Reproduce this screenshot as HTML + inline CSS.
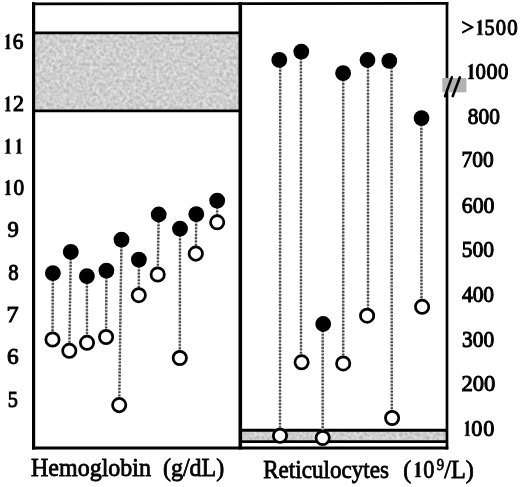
<!DOCTYPE html>
<html><head><meta charset="utf-8"><style>
html,body{margin:0;padding:0;background:#fff;}
body{width:520px;height:487px;overflow:hidden;}
svg{display:block;}
text{font-family:"Liberation Serif",serif;font-size:22.5px;fill:#000;stroke:#000;stroke-width:1px;}
.t{font-size:24px;stroke-width:0.75px;}
</style></head><body>
<svg width="520" height="487" viewBox="0 0 520 487">
<defs><filter id="n" x="0" y="0" width="100%" height="100%" color-interpolation-filters="sRGB"><feTurbulence type="fractalNoise" baseFrequency="0.3" numOctaves="2" seed="7" result="t"/><feColorMatrix in="t" type="matrix" values="0.32 0 0 0 0.650  0.32 0 0 0 0.650  0.32 0 0 0 0.650  0 0 0 0 1"/></filter><filter id="b" filterUnits="userSpaceOnUse" x="0" y="0" width="520" height="487"><feGaussianBlur stdDeviation="0.5"/></filter></defs>
<rect width="520" height="487" fill="#fff"/>
<g filter="url(#b)">
<rect x="33.6" y="32.7" width="206.7" height="78" fill="#cdcdcd" filter="url(#n)"/>
<line x1="33.6" y1="32.8" x2="240.3" y2="32.8" stroke="#000" stroke-width="2.8"/>
<line x1="33.6" y1="110.8" x2="240.3" y2="110.8" stroke="#000" stroke-width="2.8"/>
<rect x="240.3" y="430" width="206.7" height="11.6" fill="#cdcdcd" filter="url(#n)"/>
<line x1="240.3" y1="430.2" x2="447" y2="430.2" stroke="#000" stroke-width="3"/>
<line x1="240.3" y1="441.6" x2="447" y2="441.6" stroke="#000" stroke-width="2.6"/>
<line x1="33.6" y1="2.3" x2="33.6" y2="449.5" stroke="#000" stroke-width="3.2"/>
<line x1="240.3" y1="2.3" x2="240.3" y2="449.5" stroke="#000" stroke-width="3.6"/>
<line x1="447" y1="2.3" x2="447" y2="449.5" stroke="#000" stroke-width="2.7"/>
<line x1="32" y1="3.8" x2="448.3" y2="3.4" stroke="#000" stroke-width="2.8"/>
<line x1="32" y1="448.1" x2="448.3" y2="448.1" stroke="#000" stroke-width="3.0"/>
<rect x="442.3" y="78" width="24.1" height="14.3" fill="#b2b2b2"/>
<line x1="451.8" y1="77.3" x2="445" y2="96.2" stroke="#000" stroke-width="2.5" stroke-linecap="round"/>
<line x1="459.9" y1="77.3" x2="452.7" y2="96.2" stroke="#000" stroke-width="2.5" stroke-linecap="round"/>
<line x1="52.9" y1="273.2" x2="52.5" y2="339.5" stroke="#bdbdbd" stroke-width="2.1"/><line x1="52.9" y1="273.2" x2="52.5" y2="339.5" stroke="#4a4a4a" stroke-width="2.5" stroke-dasharray="1.65 1.65"/>
<line x1="70.8" y1="251.9" x2="69.3" y2="350.8" stroke="#bdbdbd" stroke-width="2.1"/><line x1="70.8" y1="251.9" x2="69.3" y2="350.8" stroke="#4a4a4a" stroke-width="2.5" stroke-dasharray="1.65 1.65"/>
<line x1="86.9" y1="276.2" x2="87.0" y2="342.8" stroke="#bdbdbd" stroke-width="2.1"/><line x1="86.9" y1="276.2" x2="87.0" y2="342.8" stroke="#4a4a4a" stroke-width="2.5" stroke-dasharray="1.65 1.65"/>
<line x1="106.4" y1="270.6" x2="106.1" y2="337.0" stroke="#bdbdbd" stroke-width="2.1"/><line x1="106.4" y1="270.6" x2="106.1" y2="337.0" stroke="#4a4a4a" stroke-width="2.5" stroke-dasharray="1.65 1.65"/>
<line x1="121.5" y1="239.6" x2="119.2" y2="405.1" stroke="#bdbdbd" stroke-width="2.1"/><line x1="121.5" y1="239.6" x2="119.2" y2="405.1" stroke="#4a4a4a" stroke-width="2.5" stroke-dasharray="1.65 1.65"/>
<line x1="138.9" y1="259.6" x2="138.8" y2="295.2" stroke="#bdbdbd" stroke-width="2.1"/><line x1="138.9" y1="259.6" x2="138.8" y2="295.2" stroke="#4a4a4a" stroke-width="2.5" stroke-dasharray="1.65 1.65"/>
<line x1="158.7" y1="214.5" x2="157.7" y2="274.5" stroke="#bdbdbd" stroke-width="2.1"/><line x1="158.7" y1="214.5" x2="157.7" y2="274.5" stroke="#4a4a4a" stroke-width="2.5" stroke-dasharray="1.65 1.65"/>
<line x1="180.0" y1="228.7" x2="179.8" y2="358.0" stroke="#bdbdbd" stroke-width="2.1"/><line x1="180.0" y1="228.7" x2="179.8" y2="358.0" stroke="#4a4a4a" stroke-width="2.5" stroke-dasharray="1.65 1.65"/>
<line x1="196.3" y1="214.2" x2="195.8" y2="253.6" stroke="#bdbdbd" stroke-width="2.1"/><line x1="196.3" y1="214.2" x2="195.8" y2="253.6" stroke="#4a4a4a" stroke-width="2.5" stroke-dasharray="1.65 1.65"/>
<line x1="217.2" y1="200.6" x2="217.2" y2="222.3" stroke="#bdbdbd" stroke-width="2.1"/><line x1="217.2" y1="200.6" x2="217.2" y2="222.3" stroke="#4a4a4a" stroke-width="2.5" stroke-dasharray="1.65 1.65"/>
<line x1="280.2" y1="59.9" x2="280.0" y2="435.8" stroke="#bdbdbd" stroke-width="2.1"/><line x1="280.2" y1="59.9" x2="280.0" y2="435.8" stroke="#4a4a4a" stroke-width="2.5" stroke-dasharray="1.65 1.65"/>
<line x1="300.9" y1="51.6" x2="301.0" y2="362.3" stroke="#bdbdbd" stroke-width="2.1"/><line x1="300.9" y1="51.6" x2="301.0" y2="362.3" stroke="#4a4a4a" stroke-width="2.5" stroke-dasharray="1.65 1.65"/>
<line x1="322.7" y1="324.0" x2="322.7" y2="438.0" stroke="#bdbdbd" stroke-width="2.1"/><line x1="322.7" y1="324.0" x2="322.7" y2="438.0" stroke="#4a4a4a" stroke-width="2.5" stroke-dasharray="1.65 1.65"/>
<line x1="343.2" y1="73.2" x2="343.2" y2="363.4" stroke="#bdbdbd" stroke-width="2.1"/><line x1="343.2" y1="73.2" x2="343.2" y2="363.4" stroke="#4a4a4a" stroke-width="2.5" stroke-dasharray="1.65 1.65"/>
<line x1="368.0" y1="60.0" x2="368.0" y2="315.7" stroke="#bdbdbd" stroke-width="2.1"/><line x1="368.0" y1="60.0" x2="368.0" y2="315.7" stroke="#4a4a4a" stroke-width="2.5" stroke-dasharray="1.65 1.65"/>
<line x1="391.5" y1="60.8" x2="391.8" y2="418.0" stroke="#bdbdbd" stroke-width="2.1"/><line x1="391.5" y1="60.8" x2="391.8" y2="418.0" stroke="#4a4a4a" stroke-width="2.5" stroke-dasharray="1.65 1.65"/>
<line x1="421.3" y1="118.1" x2="421.5" y2="306.8" stroke="#bdbdbd" stroke-width="2.1"/><line x1="421.3" y1="118.1" x2="421.5" y2="306.8" stroke="#4a4a4a" stroke-width="2.5" stroke-dasharray="1.65 1.65"/>
<circle cx="52.9" cy="273.2" r="7.9" fill="#000"/>
<circle cx="52.5" cy="339.5" r="6.65" fill="#fff" stroke="#000" stroke-width="2.75"/>
<circle cx="70.8" cy="251.9" r="7.9" fill="#000"/>
<circle cx="69.3" cy="350.8" r="6.65" fill="#fff" stroke="#000" stroke-width="2.75"/>
<circle cx="86.9" cy="276.2" r="7.9" fill="#000"/>
<circle cx="87.0" cy="342.8" r="6.65" fill="#fff" stroke="#000" stroke-width="2.75"/>
<circle cx="106.4" cy="270.6" r="7.9" fill="#000"/>
<circle cx="106.1" cy="337.0" r="6.65" fill="#fff" stroke="#000" stroke-width="2.75"/>
<circle cx="121.5" cy="239.6" r="7.9" fill="#000"/>
<circle cx="119.2" cy="405.1" r="6.65" fill="#fff" stroke="#000" stroke-width="2.75"/>
<circle cx="138.9" cy="259.6" r="7.9" fill="#000"/>
<circle cx="138.8" cy="295.2" r="6.65" fill="#fff" stroke="#000" stroke-width="2.75"/>
<circle cx="158.7" cy="214.5" r="7.9" fill="#000"/>
<circle cx="157.7" cy="274.5" r="6.65" fill="#fff" stroke="#000" stroke-width="2.75"/>
<circle cx="180.0" cy="228.7" r="7.9" fill="#000"/>
<circle cx="179.8" cy="358.0" r="6.65" fill="#fff" stroke="#000" stroke-width="2.75"/>
<circle cx="196.3" cy="214.2" r="7.9" fill="#000"/>
<circle cx="195.8" cy="253.6" r="6.65" fill="#fff" stroke="#000" stroke-width="2.75"/>
<circle cx="217.2" cy="200.6" r="7.9" fill="#000"/>
<circle cx="217.2" cy="222.3" r="6.65" fill="#fff" stroke="#000" stroke-width="2.75"/>
<circle cx="279.3" cy="59.9" r="7.9" fill="#000"/>
<circle cx="280.0" cy="435.8" r="6.65" fill="#fff" stroke="#000" stroke-width="2.75"/>
<circle cx="301.3" cy="51.6" r="7.9" fill="#000"/>
<circle cx="301.6" cy="362.3" r="6.65" fill="#fff" stroke="#000" stroke-width="2.75"/>
<circle cx="323.2" cy="324.0" r="7.9" fill="#000"/>
<circle cx="322.7" cy="438.0" r="6.65" fill="#fff" stroke="#000" stroke-width="2.75"/>
<circle cx="343.1" cy="73.2" r="7.9" fill="#000"/>
<circle cx="343.2" cy="363.4" r="6.65" fill="#fff" stroke="#000" stroke-width="2.75"/>
<circle cx="367.5" cy="60.0" r="7.9" fill="#000"/>
<circle cx="367.1" cy="315.7" r="6.65" fill="#fff" stroke="#000" stroke-width="2.75"/>
<circle cx="389.3" cy="60.8" r="7.9" fill="#000"/>
<circle cx="392.1" cy="418.0" r="6.65" fill="#fff" stroke="#000" stroke-width="2.75"/>
<circle cx="421.5" cy="118.1" r="7.9" fill="#000"/>
<circle cx="422.1" cy="306.8" r="6.65" fill="#fff" stroke="#000" stroke-width="2.75"/>
<path transform="translate(5.40,34.10)" d="M3.75 0 L3.75 13.3 C3.75 13.9 4.23 14.2 4.90 14.3 L4.90 14.9 L0 14.9 L0 14.3 C0.86 14.2 1.35 13.9 1.35 13.3 L1.35 3.2 C1.35 2.6 0.86 2.5 0.19 2.8 L0 2.3 L3.27 0 Z" fill="#000" stroke="#000" stroke-width="0.5"/>
<text transform="translate(12.85,49.00) scale(0.948,1)">6</text>
<path transform="translate(5.40,96.30)" d="M3.75 0 L3.75 13.3 C3.75 13.9 4.23 14.2 4.90 14.3 L4.90 14.9 L0 14.9 L0 14.3 C0.86 14.2 1.35 13.9 1.35 13.3 L1.35 3.2 C1.35 2.6 0.86 2.5 0.19 2.8 L0 2.3 L3.27 0 Z" fill="#000" stroke="#000" stroke-width="0.5"/>
<text transform="translate(13.12,111.20) scale(0.978,1)">2</text>
<path transform="translate(5.40,138.70)" d="M3.90 0 L3.90 13.3 C3.90 13.9 4.40 14.2 5.10 14.3 L5.10 14.9 L0 14.9 L0 14.3 C0.90 14.2 1.40 13.9 1.40 13.3 L1.40 3.2 C1.40 2.6 0.90 2.5 0.20 2.8 L0 2.3 L3.40 0 Z" fill="#000" stroke="#000" stroke-width="0.5"/>
<path transform="translate(16.40,138.70)" d="M3.82 0 L3.82 13.3 C3.82 13.9 4.31 14.2 5.00 14.3 L5.00 14.9 L0 14.9 L0 14.3 C0.88 14.2 1.37 13.9 1.37 13.3 L1.37 3.2 C1.37 2.6 0.88 2.5 0.20 2.8 L0 2.3 L3.33 0 Z" fill="#000" stroke="#000" stroke-width="0.5"/>
<path transform="translate(5.40,180.05)" d="M3.90 0 L3.90 13.3 C3.90 13.9 4.40 14.2 5.10 14.3 L5.10 14.9 L0 14.9 L0 14.3 C0.90 14.2 1.40 13.9 1.40 13.3 L1.40 3.2 C1.40 2.6 0.90 2.5 0.20 2.8 L0 2.3 L3.40 0 Z" fill="#000" stroke="#000" stroke-width="0.5"/>
<text transform="translate(13.55,194.95) scale(0.947,1)">0</text>
<text transform="translate(7.60,237.15) scale(1.005,1)">9</text>
<text transform="translate(8.37,279.65) scale(0.921,1)">8</text>
<text transform="translate(6.58,321.95) scale(1.077,1)">7</text>
<text transform="translate(6.96,364.45) scale(1.036,1)">6</text>
<text transform="translate(7.73,407.15) scale(0.901,1)">5</text>
<text transform="translate(461.40,34.85) scale(1.000,1)">&gt;</text>
<path transform="translate(477.20,19.95)" d="M4.13 0 L4.13 13.3 C4.13 13.9 4.66 14.2 5.40 14.3 L5.40 14.9 L0 14.9 L0 14.3 C0.95 14.2 1.48 13.9 1.48 13.3 L1.48 3.2 C1.48 2.6 0.95 2.5 0.21 2.8 L0 2.3 L3.60 0 Z" fill="#000" stroke="#000" stroke-width="0.5"/>
<text transform="translate(484.43,34.85) scale(0.901,1)">5</text>
<text transform="translate(495.78,34.85) scale(0.916,1)">0</text>
<text transform="translate(507.27,34.85) scale(0.926,1)">0</text>
<path transform="translate(468.30,64.05)" d="M4.28 0 L4.28 13.3 C4.28 13.9 4.83 14.2 5.60 14.3 L5.60 14.9 L0 14.9 L0 14.3 C0.99 14.2 1.54 13.9 1.54 13.3 L1.54 3.2 C1.54 2.6 0.99 2.5 0.22 2.8 L0 2.3 L3.73 0 Z" fill="#000" stroke="#000" stroke-width="0.5"/>
<text transform="translate(475.57,78.95) scale(0.926,1)">0</text>
<text transform="translate(486.41,78.95) scale(0.989,1)">0</text>
<text transform="translate(497.97,78.95) scale(0.926,1)">0</text>
<path transform="translate(464.90,420.85)" d="M3.67 0 L3.67 13.3 C3.67 13.9 4.14 14.2 4.80 14.3 L4.80 14.9 L0 14.9 L0 14.3 C0.85 14.2 1.32 13.9 1.32 13.3 L1.32 3.2 C1.32 2.6 0.85 2.5 0.19 2.8 L0 2.3 L3.20 0 Z" fill="#000" stroke="#000" stroke-width="0.5"/>
<text transform="translate(471.21,435.75) scale(0.989,1)">0</text>
<text transform="translate(483.31,435.75) scale(0.989,1)">0</text>
<text transform="translate(467.85,123.60) scale(0.947,1)">800</text>
<text transform="translate(461.57,167.40) scale(0.955,1)">700</text>
<text transform="translate(461.73,212.55) scale(0.972,1)">600</text>
<text transform="translate(461.75,257.20) scale(0.959,1)">500</text>
<text transform="translate(461.92,302.00) scale(0.954,1)">400</text>
<text transform="translate(461.95,346.55) scale(0.953,1)">300</text>
<text transform="translate(461.39,391.05) scale(1.006,1)">200</text>
<text class="t" transform="translate(31,476.1) scale(1,1.09)">Hemoglobin&#160;&#160;(g/dL)</text>
<text class="t" style="font-size:24px" transform="translate(263.17,477.60) scale(0.964,1.09)">Reticulocytes</text>
<text class="t" style="font-size:24px" transform="translate(403.25,477.60) scale(1.000,1.09)">(</text>
<path transform="translate(415.20,462.05)" d="M4.21 0 L4.21 13.3 C4.21 13.9 4.75 14.2 5.50 14.3 L5.50 14.9 L0 14.9 L0 14.3 C0.97 14.2 1.51 13.9 1.51 13.3 L1.51 3.2 C1.51 2.6 0.97 2.5 0.22 2.8 L0 2.3 L3.67 0 Z" fill="#000" stroke="#000" stroke-width="0.5"/>
<text class="t" style="font-size:24px" transform="translate(423.31,477.60) scale(0.931,1.09)">0</text>
<text class="t" style="font-size:16px" transform="translate(436.76,470.10) scale(0.912,1.0)">9</text>
<text class="t" style="font-size:24px" transform="translate(444.25,477.60) scale(1.011,1.09)">/L)</text>
</g>
</svg>
</body></html>
